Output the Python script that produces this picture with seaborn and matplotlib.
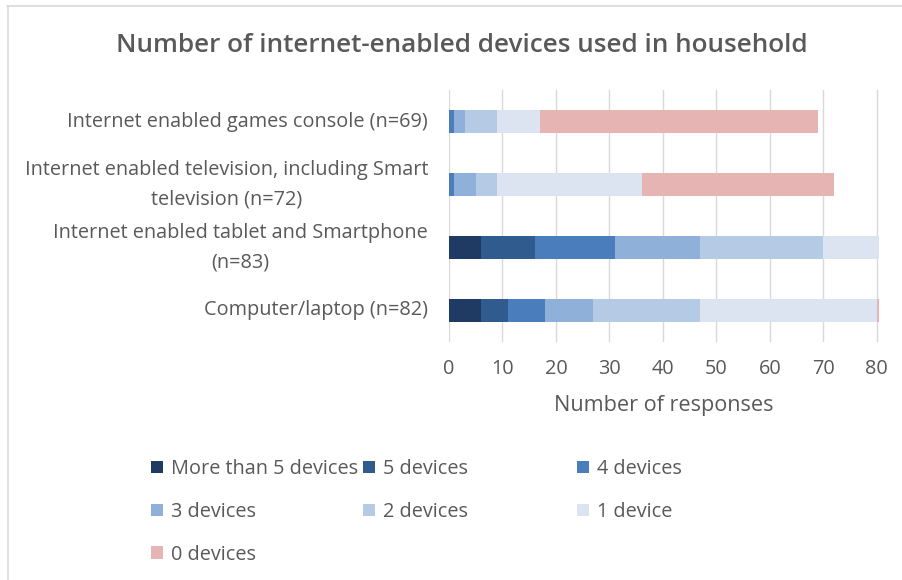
import matplotlib
matplotlib.use("Agg")
import matplotlib.pyplot as plt
from matplotlib.patches import Patch
from matplotlib.lines import Line2D
import numpy as np
import pandas as pd
import seaborn as sns

# Survey data: number of responses per device-count band
categories = [
    "Internet enabled games console (n=69)",
    "Internet enabled television, including Smart\ntelevision (n=72)",
    "Internet enabled tablet and Smartphone\n(n=83)",
    "Computer/laptop (n=82)",
]
bands = ["More than 5 devices", "5 devices", "4 devices", "3 devices",
         "2 devices", "1 device", "0 devices"]
more_than_5 = [0, 0, 6, 6]
five_dev = [0, 0, 10, 5]
four_dev = [1, 1, 15, 7]
three_dev = [2, 4, 16, 9]
two_dev = [6, 4, 23, 20]
one_dev = [8, 27, 13, 33]
zero_dev = [52, 36, 0, 2]
x_ticks = [0, 10, 20, 30, 40, 50, 60, 70, 80]

colors = ["#1f3b63", "#2f5b8f", "#4a7dbb", "#8fb0d8",
          "#b5cae5", "#dbe4f0", "#e7b4b4"]

sns.set_theme(style="white")
plt.rcParams["font.family"] = ["Open Sans", "DejaVu Sans"]
text_grey = "#595959"

df = pd.DataFrame(
    np.array([more_than_5, five_dev, four_dev, three_dev,
              two_dev, one_dev, zero_dev]).T,
    columns=bands,
)
df.insert(0, "category", categories)
cum = df[bands].cumsum(axis=1)
cum.insert(0, "category", categories)

fig = plt.figure(figsize=(9.03, 5.80), dpi=100)
ax = fig.add_axes([449 / 903, 1 - 342 / 580, 430 / 903, 252 / 580])

# Stacked bars: draw cumulative totals from the outermost band inward
for band, col in reversed(list(zip(bands, colors))):
    sns.barplot(data=cum, x=band, y="category", order=categories,
                color=col, width=0.38, saturation=1, ax=ax,
                orient="h", linewidth=0)

ax.set_xlim(0, 80.4)
ax.set_xticks(x_ticks)
ax.xaxis.grid(True, color="#d9d9d9", linewidth=1)
ax.set_axisbelow(True)
for s in ax.spines.values():
    s.set_visible(False)
ax.tick_params(axis="both", length=0, colors=text_grey, labelsize=14.3)
ax.tick_params(axis="y", pad=15)
ax.tick_params(axis="x", pad=12)
for lbl in ax.get_yticklabels():
    lbl.set_multialignment("center")
    lbl.set_linespacing(1.65)
    lbl.set_verticalalignment("center")
ax.set_ylabel("")
ax.set_xlabel("Number of responses", fontsize=15.6, color=text_grey,
              labelpad=12)

fig.text(462 / 903, 1 - 45 / 580,
         "Number of internet-enabled devices used in household",
         ha="center", va="center", fontsize=18.8, fontweight="semibold",
         color=text_grey)

# Legend laid out in three fixed-width columns
handles = {b: Patch(facecolor=c, edgecolor="none") for b, c in zip(bands, colors)}
columns = [
    (151, ["More than 5 devices", "3 devices", "0 devices"]),
    (363, ["5 devices", "2 devices"]),
    (577, ["4 devices", "1 device"]),
]
for x0, names in columns:
    fig.legend([handles[n] for n in names], names,
               loc="upper left", bbox_to_anchor=(x0 / 903, 1 - 459 / 580),
               frameon=False, fontsize=14.3, labelcolor=text_grey,
               handlelength=0.58, handleheight=0.58, handletextpad=0.42,
               labelspacing=1.15, borderpad=0, borderaxespad=0)

# Chart-area border
fig.add_artist(Line2D([7 / 903, 1], [1 - 5.5 / 580] * 2,
                      transform=fig.transFigure, color="#d9d9d9", lw=1.2))
fig.add_artist(Line2D([7.5 / 903] * 2, [0, 1 - 5.5 / 580],
                      transform=fig.transFigure, color="#d9d9d9", lw=1.2))

fig.savefig("out.png", dpi=100)
